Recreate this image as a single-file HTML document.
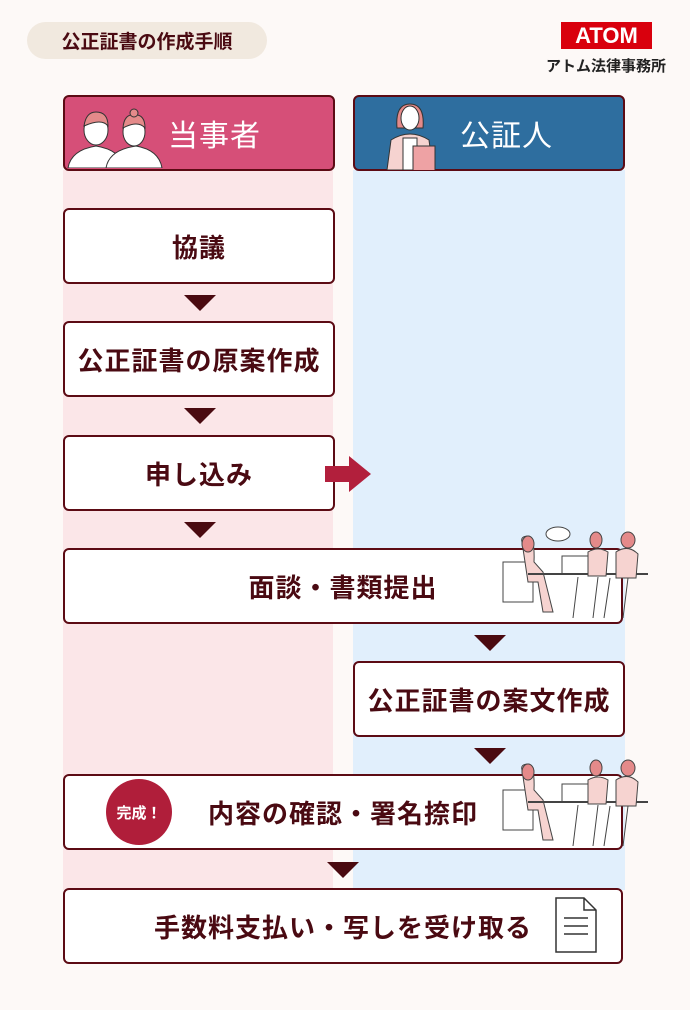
<!DOCTYPE html>
<html><head><meta charset="utf-8"><style>
*{margin:0;padding:0;box-sizing:border-box}
body{width:690px;height:1010px;background:#fdf9f7;position:relative;overflow:hidden;font-family:"Liberation Sans","Noto Sans CJK JP",sans-serif;color:#4a0a12}
.a{position:absolute}
.box{position:absolute;background:#fff;border:2.5px solid #5c0b14;border-radius:6px;display:flex;align-items:center;justify-content:center;font-size:26px;font-weight:bold;letter-spacing:1px;color:#4a0a12}
.tri{position:absolute;width:0;height:0;border-left:16px solid transparent;border-right:16px solid transparent;border-top:16px solid #4a0a10}
</style></head><body>
<div class="a" style="left:27px;top:22px;width:240px;height:37px;border-radius:19px;background:#f1e9df;font-size:19px;font-weight:bold;display:flex;align-items:center;justify-content:center;color:#4a0a12">公正証書の作成手順</div>
<div class="a" style="left:561px;top:22px;width:91px;height:27px;background:#d9000d;color:#fff;font-weight:bold;font-size:22px;text-align:center;line-height:27px">ATOM</div>
<div class="a" style="left:536px;top:55px;width:140px;font-size:15px;color:#222;text-align:center;font-weight:bold">アトム法律事務所</div>

<div class="a" style="left:63px;top:170px;width:270px;height:720px;background:#fbe6e8"></div>
<div class="a" style="left:353px;top:170px;width:272px;height:720px;background:#e1effc"></div>

<div class="box" style="left:63px;top:95px;width:272px;height:76px;background:#d64f78;color:#fff;font-size:30px;font-weight:normal;padding-left:56px;justify-content:flex-start;padding-left:103px">当事者</div>
<svg class="a" style="left:66px;top:108px" width="100" height="60"><g fill="#fff" stroke="#333" stroke-width="1"><path d="M2 60 Q5 42 30 38 Q55 42 58 60Z"/><ellipse cx="30" cy="22" rx="12" ry="15"/><path d="M18 18 Q20 4 30 4 Q42 4 42 18 Q36 10 18 18Z" fill="#e48a8a"/><path d="M40 60 Q43 42 70 38 Q93 42 96 60Z"/><ellipse cx="68" cy="24" rx="11" ry="14"/><path d="M57 20 Q58 6 68 7 Q79 6 79 20 Q72 12 57 20Z" fill="#e48a8a"/><circle cx="68" cy="5" r="4" fill="#e48a8a"/></g></svg>
<div class="box" style="left:353px;top:95px;width:272px;height:76px;background:#2e6e9f;color:#fff;font-size:30px;font-weight:normal;justify-content:flex-start;padding-left:105px">公証人</div>
<svg class="a" style="left:383px;top:98px" width="60" height="72"><g stroke="#333" stroke-width="1"><path d="M14 30 Q12 6 27 6 Q42 6 40 30Z" fill="#e48a8a"/><ellipse cx="27" cy="20" rx="9" ry="12" fill="#fff"/><path d="M4 72 L8 42 Q27 30 46 42 L50 72Z" fill="#f6d3d0"/><rect x="20" y="40" width="14" height="32" fill="#fff"/><rect x="30" y="48" width="22" height="26" fill="#eea2a4"/></g></svg>

<div class="box" style="left:63px;top:208px;width:272px;height:76px">協議</div>
<div class="tri" style="left:184px;top:295px"></div>
<div class="box" style="left:63px;top:321px;width:272px;height:76px">公正証書の原案作成</div>
<div class="tri" style="left:184px;top:408px"></div>
<div class="box" style="left:63px;top:435px;width:272px;height:76px">申し込み</div>
<svg class="a" style="left:325px;top:456px" width="46" height="36"><path d="M0 10 H24 V0 L46 18 L24 36 V26 H0Z" fill="#b21f3c"/></svg>
<div class="tri" style="left:184px;top:522px"></div>
<div class="box" style="left:63px;top:548px;width:560px;height:76px;padding-right:0">面談・書類提出</div>
<svg class="a" style="left:498px;top:522px" width="150" height="102"><g stroke="#444" stroke-width="1" fill="none"><ellipse cx="60" cy="12" rx="12" ry="7" fill="#fff"/><rect x="5" y="40" width="30" height="40" fill="#fff"/><path d="M24 20 Q22 14 31 14 Q37 18 36 40 L45 50 L55 90 H45 L40 60 H30 Z" fill="#f6d3d0"/><ellipse cx="30" cy="22" rx="6" ry="8" fill="#e48a8a"/><rect x="64" y="34" width="26" height="18" fill="#fff"/><path d="M30 52 H158" stroke-width="2"/><path d="M90 30 Q100 24 110 30 L108 54 H90Z" fill="#f6d3d0"/><ellipse cx="98" cy="18" rx="6" ry="8" fill="#e48a8a"/><path d="M118 30 Q130 22 140 32 L138 56 H118Z" fill="#f6d3d0"/><ellipse cx="130" cy="18" rx="7" ry="8" fill="#e48a8a"/><path d="M80 55 L75 96 M100 55 L95 96 M112 56 L106 96 M130 56 L125 96"/></g></svg>
<div class="tri" style="left:474px;top:635px"></div>
<div class="box" style="left:353px;top:661px;width:272px;height:76px">公正証書の案文作成</div>
<div class="tri" style="left:474px;top:748px"></div>
<div class="box" style="left:63px;top:774px;width:560px;height:76px;padding-right:0">内容の確認・署名捺印</div>
<div class="a" style="left:106px;top:779px;width:66px;height:66px;border-radius:50%;background:#b01e3a;color:#fff;font-size:15px;font-weight:bold;display:flex;align-items:center;justify-content:center">完成！</div>
<svg class="a" style="left:498px;top:750px" width="150" height="100"><g stroke="#444" stroke-width="1" fill="none"><rect x="5" y="40" width="30" height="40" fill="#fff"/><path d="M24 20 Q22 14 31 14 Q37 18 36 40 L45 50 L55 90 H45 L40 60 H30 Z" fill="#f6d3d0"/><ellipse cx="30" cy="22" rx="6" ry="8" fill="#e48a8a"/><rect x="64" y="34" width="26" height="18" fill="#fff"/><path d="M30 52 H158" stroke-width="2"/><path d="M90 30 Q100 24 110 30 L108 54 H90Z" fill="#f6d3d0"/><ellipse cx="98" cy="18" rx="6" ry="8" fill="#e48a8a"/><path d="M118 30 Q130 22 140 32 L138 56 H118Z" fill="#f6d3d0"/><ellipse cx="130" cy="18" rx="7" ry="8" fill="#e48a8a"/><path d="M80 55 L75 96 M100 55 L95 96 M112 56 L106 96 M130 56 L125 96"/></g></svg>
<div class="tri" style="left:327px;top:862px"></div>
<div class="box" style="left:63px;top:888px;width:560px;height:76px;padding-right:0">手数料支払い・写しを受け取る</div>
<svg class="a" style="left:554px;top:896px" width="44" height="58"><path d="M2 2 H30 L42 14 V56 H2Z M30 2 V14 H42" fill="#fff" stroke="#333" stroke-width="1.5"/><path d="M10 22 H34 M10 30 H34 M10 38 H34" stroke="#333" stroke-width="1.5"/></svg>
</body></html>
